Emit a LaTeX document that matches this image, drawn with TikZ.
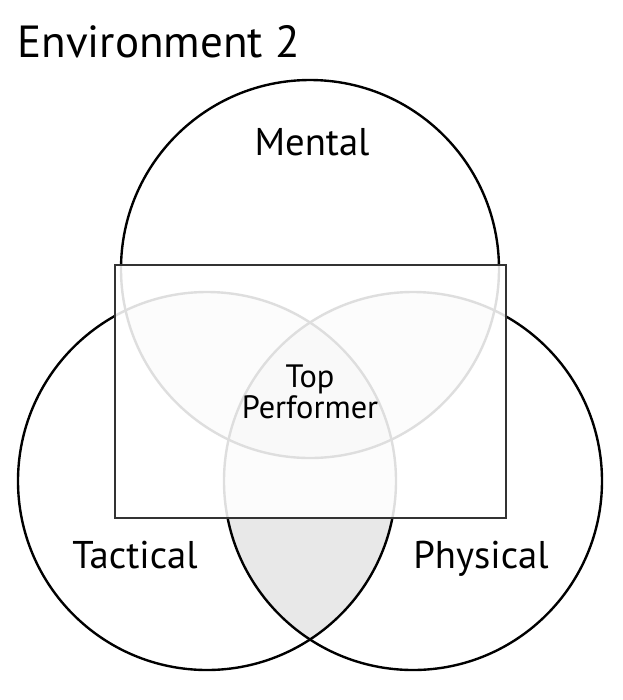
\documentclass[tikz,border=0pt]{standalone}
\usepackage{fontspec}
\setmainfont{PT Sans}
\usepackage{tikz}
\definecolor{gray1}{rgb}{0.91, 0.91, 0.91}
\definecolor{gray2}{rgb}{0.84, 0.84, 0.84}
\definecolor{gray3}{rgb}{0.2, 0.2, 0.2}

\begin{document}
\begin{tikzpicture}[x=0.025cm, y=0.025cm]
\tikzstyle{ring} = [line width=1.7pt, black];
\tikzstyle{big} = [font=\fontsize{27.5}{32}\selectfont, inner sep=0pt];
\tikzstyle{title} = [font=\fontsize{32}{36}\selectfont, inner sep=0pt];
\tikzstyle{small} = [font=\fontsize{23}{20}\selectfont, align=center, inner sep=0pt];
\tikzstyle{frame} = [line width=2.1pt, draw=gray3, fill=white, fill opacity=0.87]

\useasboundingbox (0,0) rectangle (623,-700);

\coordinate (mental) at (310,-269);
\coordinate (tactical) at (207,-481);
\coordinate (physical) at (413,-481);

% overlaps
\begin{scope}
\clip (tactical) circle (189);
\fill [gray1] (physical) circle (189);
\fill [gray1] (mental) circle (189);
\end{scope}
\begin{scope}
\clip (mental) circle (189);
\fill [gray1] (physical) circle (189);
\end{scope}
\begin{scope}
\clip (tactical) circle (189);
\clip (physical) circle (189);
\fill [gray2] (mental) circle (189);
\end{scope}

\draw [ring] (mental) circle (189);
\draw [ring] (tactical) circle (189);
\draw [ring] (physical) circle (189);

\draw [frame] (115,-265) rectangle (506,-518);

\node [title, anchor=base west] (heading) at (17,-57) {Environment 2};
\node [big, anchor=base] (mentallabel) at (312,-155) {Mental};
\node [big, anchor=base] (tacticallabel) at (135,-568) {Tactical};
\node [big, anchor=base] (physicallabel) at (481,-568) {Physical};
\node [small] (top) at (310,-392) {Top\\Performer};
\end{tikzpicture}
\end{document}
